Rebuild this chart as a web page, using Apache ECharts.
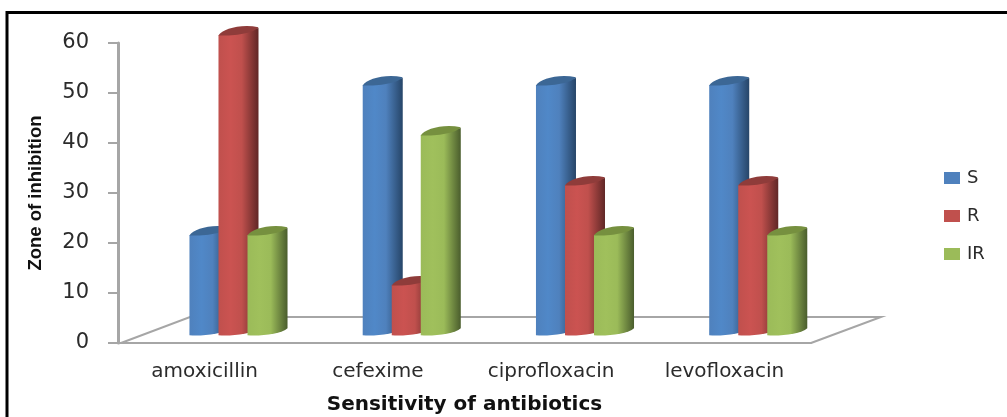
<!DOCTYPE html>
<html><head><meta charset="utf-8">
<style>html,body{margin:0;padding:0;background:#fff}#c{width:1007px;height:417px}</style>
<script src="https://cdn.jsdelivr.net/npm/echarts@6/dist/echarts.min.js"></script>
</head><body><div id="c"></div>
<script>
const categories = ['amoxicillin','cefexime','ciprofloxacin','levofloxacin'];
const S  = [20,50,50,50];
const R  = [60,10,30,30];
const IR = [20,40,20,20];
const yTicks = [0,10,20,30,40,50,60];
const seriesNames = ['S','R','IR'];
const baseColors = ['#4f81bd','#c0504d','#9bbb59'];
const midColors  = ['#5088c8','#cb5351','#a0c05c'];
const darkColors = ['#264568','#602726','#4a5d2d'];
const capColors  = ['#3c6795','#8f3c3a','#76903f'];

function mkItem(idx){
  return function(params, api){
    const band = api.size([1,0])[0];
    const c = api.coord([api.value(0), api.value(1)]);
    const c0 = api.coord([api.value(0), 0]);
    const barW = band*0.1675, depthX = band*0.0635;
    const x = c[0] - band*0.0875 + idx*barW;
    const yB = c0[1]-8, yT = c[1]-8;
    const W = barW+depthX, rise = 7;
    const body = `M${x} ${yT} L${x} ${yB} C${x+W*0.3} ${yB+1} ${x+W*0.85} ${yB-1} ${x+W} ${yB-rise} L${x+W} ${yT-rise} Z`;
    const cap = `M${x} ${yT} C${x+W*0.1} ${yT-5.5} ${x+W*0.55} ${yT-rise-3} ${x+W} ${yT-rise} C${x+W*0.9} ${yT-2.5} ${x+W*0.45} ${yT+0.5} ${x} ${yT} Z`;
    const fill = {type:'linear',x:0,y:0,x2:1,y2:0,colorStops:[
      {offset:0,color:baseColors[idx]},{offset:0.3,color:midColors[idx]},
      {offset:0.58,color:baseColors[idx]},{offset:1,color:darkColors[idx]}]};
    return {type:'group',children:[
      {type:'path',shape:{pathData:body,layout:'cover',x:x,y:yT-rise,width:W,height:yB-yT+rise+0.5},style:{fill:fill}},
      {type:'path',shape:{pathData:cap,layout:'cover',x:x,y:yT-rise-2,width:W,height:rise+2.5},style:{fill:capColors[idx]}}
    ]};
  };
}
function rows(a){return a.map((v,i)=>[i,v]);}
const values=[S,R,IR];
const barSeries = seriesNames.map((n,i)=>({
  name:n,type:'custom',data:rows(values[i]),encode:{x:0,y:1},z:3+i,
  itemStyle:{color:baseColors[i]},renderItem:mkItem(i),clip:false
}));
const floor = {
  type:'custom',silent:true,data:[[0,0]],encode:{x:0,y:1},z:1,clip:false,
  renderItem(p,api){
    const g=p.coordSys, b=g.y+g.height, l=g.x, r=g.x+g.width;
    return {type:'polyline',shape:{points:[[l+3,b],[l+72,b-26],[r+70,b-26],[r,b]]},
      style:{fill:'none',stroke:'#a6a6a6',lineWidth:2}};
  }
};
const chart = echarts.init(document.getElementById('c'));
chart.setOption({
  animation:false,backgroundColor:'#fff',
  graphic:[{type:'polyline',z:0,shape:{points:[[7,417],[7,12.5],[1007,12.5]]},style:{fill:'none',stroke:'#000',lineWidth:3}}],
  grid:{left:118,top:43,width:693,height:300,outerBoundsMode:'none'},
  legend:{orient:'vertical',left:939,top:164,itemWidth:16,itemHeight:12,itemGap:20,icon:'rect',
    data:seriesNames,textStyle:{fontFamily:'DejaVu Sans',fontSize:18,color:'#2b2b2b',padding:[0,0,0,2]}},
  xAxis:{type:'category',data:categories,name:'Sensitivity of antibiotics',nameLocation:'middle',nameGap:52,
    nameTextStyle:{fontFamily:'DejaVu Sans',fontWeight:'bold',fontSize:20,color:'#111'},
    axisLine:{lineStyle:{color:'#a6a6a6',width:2}},axisTick:{show:false},
    axisLabel:{fontFamily:'DejaVu Sans',fontSize:20,color:'#2b2b2b',margin:19,interval:0}},
  yAxis:{type:'value',min:0,max:60,interval:10,name:'Zone of inhibition',nameLocation:'middle',nameGap:73,
    nameTextStyle:{fontFamily:'Liberation Sans',fontWeight:'bold',fontSize:18.5,color:'#111'},
    splitLine:{show:false},
    axisLine:{show:true,lineStyle:{color:'#a6a6a6',width:3}},
    axisTick:{show:true,length:10,lineStyle:{color:'#a6a6a6',width:2}},
    axisLabel:{fontFamily:'DejaVu Sans',fontSize:21,color:'#2b2b2b',margin:29,padding:[6,0,0,0],
      formatter:v=>yTicks.includes(v)?String(v):''}},
  series:[floor,...barSeries]
});
</script></body></html>
